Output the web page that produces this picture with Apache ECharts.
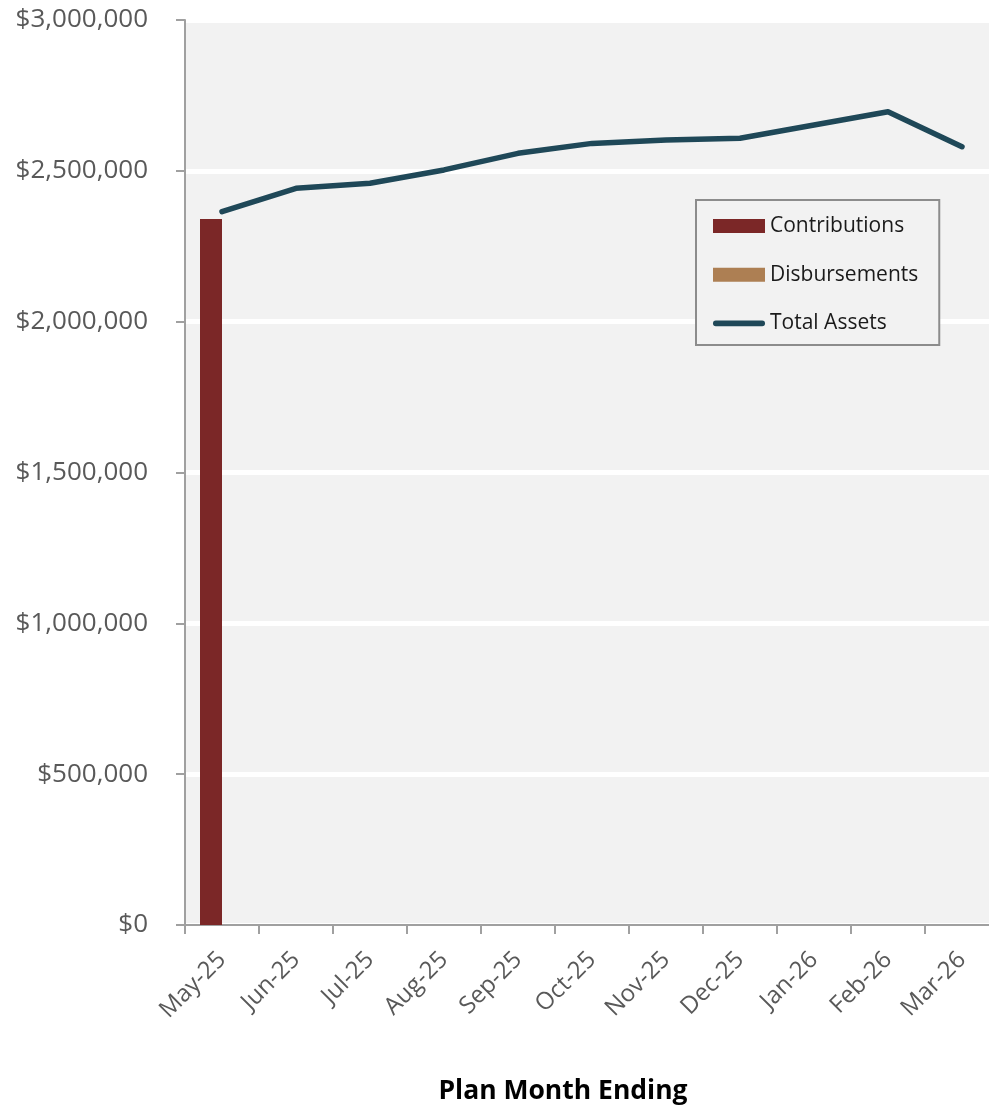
<!DOCTYPE html>
<html>
<head>
<meta charset="utf-8">
<script src="https://cdn.jsdelivr.net/npm/echarts@6/dist/echarts.min.js"></script>
<style>
  html, body { margin: 0; padding: 0; background: #ffffff; overflow: hidden; }
  #chart { width: 989px; height: 1107px; }
</style>
</head>
<body>
<div id="chart"></div>
<script>
// Monthly plan activity
const months = ['May-25', 'Jun-25', 'Jul-25', 'Aug-25', 'Sep-25', 'Oct-25',
                'Nov-25', 'Dec-25', 'Jan-26', 'Feb-26', 'Mar-26'];
const contributions = [2340000, 0, 0, 0, 0, 0, 0, 0, 0, 0, 0];
const disbursements = [0, 0, 0, 0, 0, 0, 0, 0, 0, 0, 0];
const totalAssets = [2365000, 2442000, 2459000, 2503000, 2558000, 2591000,
                     2602000, 2608000, 2652000, 2696000, 2580000];
const yTicks = { min: 0, max: 3000000, interval: 500000 };

const FONT = '"Open Sans", "Noto Sans", sans-serif';
const fmtMoney = v => '$' + Math.round(v).toLocaleString('en-US');
// rounded bar used as the legend swatch of the line series
const LINE_ICON = 'path://M3,0 L53,0 A3,3 0 0 1 53,6 L3,6 A3,3 0 0 1 3,0 Z';

const chart = echarts.init(document.getElementById('chart'), null, { renderer: 'canvas' });
chart.setOption({
  animation: false,
  textStyle: { fontFamily: FONT },
  grid: {
    left: 185, top: 20, width: 814, height: 905,
    show: true, backgroundColor: '#f2f2f2', borderWidth: 0,
    containLabel: false,
    outerBoundsMode: 'none'
  },
  legend: {
    orient: 'vertical',
    left: 696, top: 200,
    padding: [15.5, 21, 11, 17],
    itemWidth: 52, itemHeight: 14, itemGap: 27.7,
    backgroundColor: '#f2f2f2',
    borderColor: '#8c8c8c', borderWidth: 2,
    textStyle: { fontFamily: FONT, fontSize: 21, color: '#1a1a1a' },
    data: [
      { name: 'Contributions', icon: 'rect' },
      { name: 'Disbursements', icon: 'rect' },
      { name: 'Total Assets', icon: LINE_ICON }
    ]
  },
  graphic: [{
    type: 'text',
    x: 563, y: 1091,
    style: {
      text: 'Plan Month Ending',
      font: 'bold 26.5px ' + FONT,
      fill: '#000000',
      align: 'center',
      verticalAlign: 'middle'
    }
  }],
  xAxis: {
    type: 'category',
    data: months,
    boundaryGap: true,
    axisLine: { show: true, lineStyle: { color: '#a0a0a0', width: 2 } },
    axisTick: { show: true, length: 9, lineStyle: { color: '#a0a0a0', width: 2 } },
    axisLabel: { rotate: 45, margin: 31, fontFamily: FONT, fontSize: 24, color: '#595959' },
    splitLine: { show: false }
  },
  yAxis: {
    type: 'value',
    min: yTicks.min, max: yTicks.max, interval: yTicks.interval,
    axisLine: { show: true, lineStyle: { color: '#a0a0a0', width: 2 } },
    axisTick: { show: true, length: 9, lineStyle: { color: '#a0a0a0', width: 2 } },
    axisLabel: { margin: 37, fontFamily: FONT, fontSize: 26, color: '#595959', formatter: fmtMoney },
    splitLine: { show: true, lineStyle: { color: '#ffffff', width: 5 } }
  },
  series: [
    {
      name: 'Contributions', type: 'bar', data: contributions,
      barWidth: 22, barGap: '0%',
      itemStyle: { color: '#7b2727' }
    },
    {
      name: 'Disbursements', type: 'bar', data: disbursements,
      barWidth: 22,
      itemStyle: { color: '#ad7f53' }
    },
    {
      name: 'Total Assets', type: 'line', data: totalAssets,
      symbol: 'none',
      lineStyle: { color: '#1f4858', width: 5.5, cap: 'round', join: 'round' },
      itemStyle: { color: '#1f4858' }
    }
  ]
});
</script>
</body>
</html>
